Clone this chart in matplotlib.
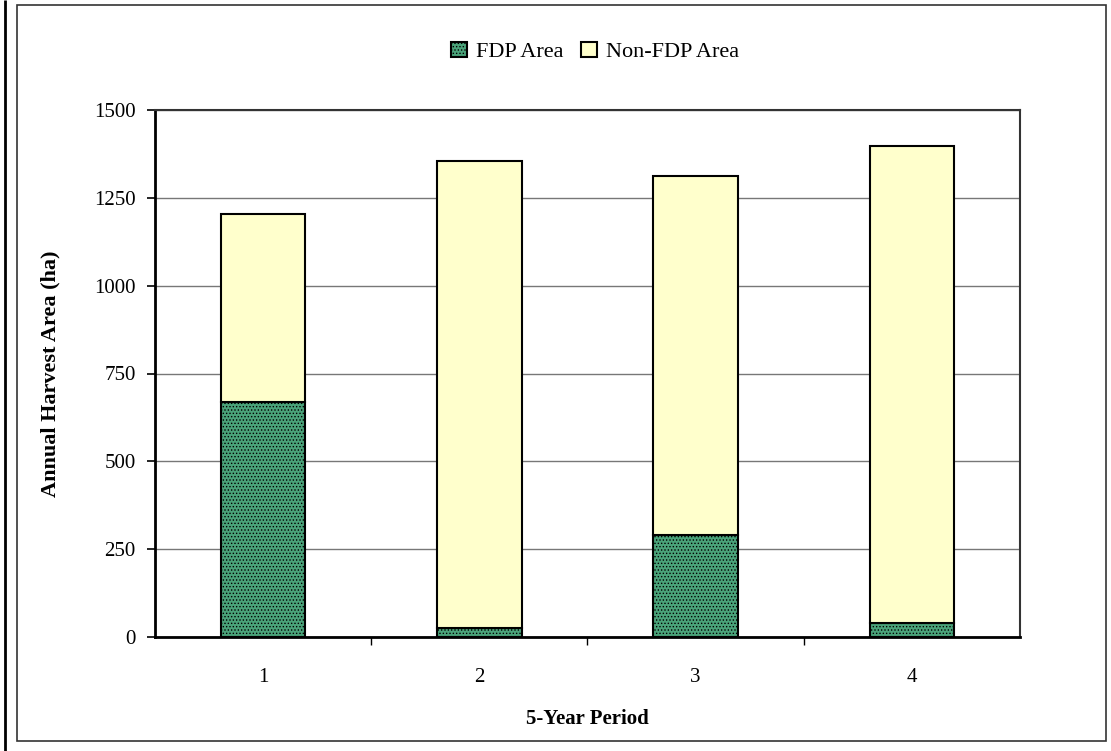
import numpy as np
import matplotlib.pyplot as plt
from matplotlib.patches import Rectangle

plt.rcParams['font.family'] = ['Liberation Serif', 'DejaVu Serif']
plt.rcParams['hatch.color'] = '#2e7d55'
plt.rcParams['hatch.linewidth'] = 0.6

periods = ['1', '2', '3', '4']
fdp = [669, 25, 290, 40]
non_fdp_total = [1204, 1355, 1312, 1398]
non_fdp = [t - f for t, f in zip(non_fdp_total, fdp)]

fig = plt.figure(figsize=(11.11, 7.51), dpi=100)
# outer chart frame
fig.patches.append(Rectangle((17/1111, 10/751), 1089/1111, 736/751, transform=fig.transFigure,
                             fill=False, edgecolor='#333333', linewidth=1.2))
fig.patches.append(Rectangle((5/1111, 0), 0, 1, transform=fig.transFigure,
                             fill=False, edgecolor='black', linewidth=2))

ax = fig.add_axes([155/1111, 114/751, 865/1111, 527/751])
x = np.arange(1, len(periods) + 1)
w = 0.39
ax.bar(x, fdp, w, color='#4aa37a', edgecolor='black', linewidth=1.5,
       hatch='.....', label='FDP Area', zorder=3)
ax.bar(x, non_fdp, w, bottom=fdp, color='#ffffcc', edgecolor='black', linewidth=1.5,
       label='Non-FDP Area', zorder=3)

ax.set_xlim(0.5, 4.5)
ax.set_ylim(0, 1500)
ax.set_yticks(np.arange(0, 1501, 250))
ax.yaxis.grid(True, color='#777777', linewidth=1)
ax.set_axisbelow(True)

ax.set_xticks(x)
ax.set_xticklabels(periods)
ax.set_xticks(np.arange(1.5, 4.5, 1), minor=True)
ax.tick_params(axis='x', which='major', length=0, pad=22, labelsize=15)
ax.tick_params(axis='x', which='minor', length=6, direction='out', width=1)
ax.tick_params(axis='y', length=6, direction='out', width=1.2, pad=8, labelsize=15)

for s in ['left', 'bottom']:
    ax.spines[s].set_linewidth(2)
for s in ['top', 'right']:
    ax.spines[s].set_linewidth(1.5)
    ax.spines[s].set_color('#333333')

ax.set_xlabel('5-Year Period', fontsize=15, fontweight='bold', labelpad=16)
ax.set_ylabel('Annual Harvest Area (ha)', fontsize=16, fontweight='bold', labelpad=24)

fig.legend(loc='center', bbox_to_anchor=(595/1111, 1 - 52/751), ncol=2, frameon=False,
           fontsize=16, handlelength=0.7, handleheight=0.7, handletextpad=0.4,
           columnspacing=0.8)

fig.savefig('out.png', dpi=100)
